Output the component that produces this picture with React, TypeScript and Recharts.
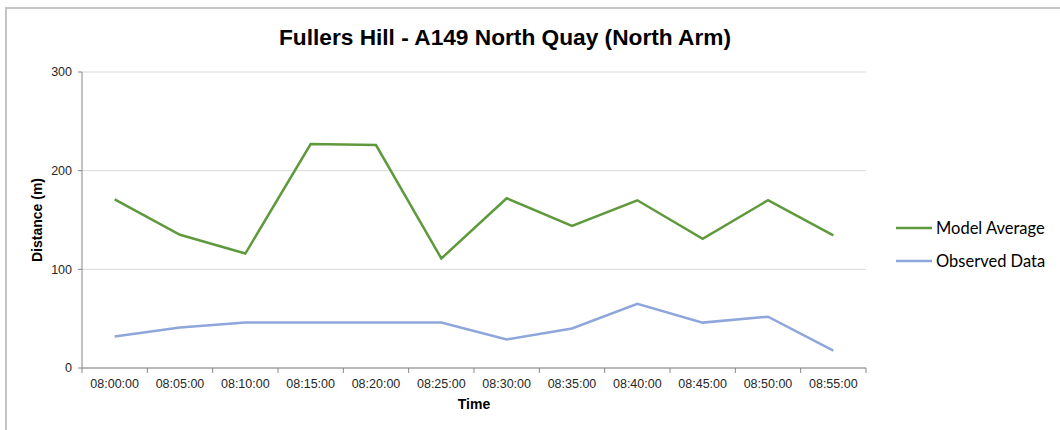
import React from 'react';
import { LineChart, Line, XAxis, YAxis, CartesianGrid, Legend, Label } from 'recharts';

const times = ['08:00:00', '08:05:00', '08:10:00', '08:15:00', '08:20:00', '08:25:00', '08:30:00', '08:35:00', '08:40:00', '08:45:00', '08:50:00', '08:55:00'];
const modelAverage = [171, 135, 116, 227, 226, 111, 172, 144, 170, 131, 170, 134.5];
const observedData = [32, 41, 46, 46, 46, 46, 29, 40, 65, 46, 52, 17.5];
const yTicks = [0, 100, 200, 300];

const data = times.map((t, i) => ({ i, time: t, model: modelAverage[i], observed: observedData[i] }));
const xTicks: number[] = [];
for (let k = 0; k <= times.length * 2; k++) xTicks.push(k / 2 - 0.5);

const GREEN = '#5E9A3C';
const BLUE = '#8EA6DA';
const AXIS = '#868686';
const FONT = '"Liberation Sans", Arial, sans-serif';

const XTick = (props: any) => {
  const { x, y, payload } = props;
  const v = payload.value;
  if (Number.isInteger(v)) {
    return (
      <text x={x} y={y} dy={14.5} textAnchor="middle" fill="#262626" fontSize={12.5} fontFamily={FONT}>
        {times[v]}
      </text>
    );
  }
  return <line x1={x} x2={x} y1={y - 5} y2={y} stroke={AXIS} strokeWidth={1} />;
};

const LegendContent = () => {
  const items = [
    { name: 'Model Average', color: GREEN },
    { name: 'Observed Data', color: BLUE },
  ];
  return (
    <div style={{ paddingLeft: 30 }}>
      {items.map((it) => (
        <div key={it.name} style={{ display: 'flex', alignItems: 'center', height: 33 }}>
          <svg width={36} height={4} style={{ marginRight: 4, flexShrink: 0 }}>
            <line x1={0} x2={36} y1={2} y2={2} stroke={it.color} strokeWidth={2.5} />
          </svg>
          <span style={{ fontFamily: 'Lato, sans-serif', fontSize: 16.5, color: '#000', whiteSpace: 'nowrap', flexShrink: 0 }}>{it.name}</span>
        </div>
      ))}
    </div>
  );
};

export default function App() {
  return (
    <div style={{ position: 'absolute', left: 0, top: 0, width: 1060, height: 430, overflow: 'hidden', background: '#fff' }}>
      <div style={{ position: 'absolute', left: 5, top: 7, width: 1200, height: 600, border: '2px solid #c4c4c4' }} />
      <div
        style={{
          position: 'absolute',
          left: 0,
          width: 1010,
          top: 23,
          textAlign: 'center',
          fontFamily: FONT,
          fontWeight: 'bold',
          fontSize: 22.7,
          lineHeight: '28px',
          color: '#000',
          whiteSpace: 'nowrap',
        }}
      >
        Fullers Hill - A149 North Quay (North Arm)
      </div>
      <div style={{ position: 'absolute', left: 0, top: 0 }}>
        <LineChart width={1060} height={430} data={data} margin={{ top: 72, right: 14, bottom: 0, left: 0 }}>
          <CartesianGrid vertical={false} stroke="#d9d9d9" strokeWidth={1} />
          <XAxis
            dataKey="i"
            type="number"
            domain={[-0.5, times.length - 0.5]}
            ticks={xTicks}
            interval={0}
            tick={<XTick />}
            tickLine={false}
            tickSize={5}
            tickMargin={0}
            axisLine={{ stroke: AXIS }}
            height={62}
          >
            <Label
              value="Time"
              position="insideBottom"
              offset={21}
              style={{ fontFamily: FONT, fontWeight: 'bold', fontSize: 14, fill: '#000' }}
            />
          </XAxis>
          <YAxis
            domain={[0, 300]}
            ticks={yTicks}
            interval={0}
            width={82}
            tickSize={4}
            tickMargin={6}
            tickLine={{ stroke: AXIS }}
            axisLine={{ stroke: AXIS }}
            tick={{ fontFamily: FONT, fontSize: 12.5, fill: '#262626' }}
          >
            <Label
              value="Distance (m)"
              angle={-90}
              position="insideLeft"
              offset={37}
              style={{ fontFamily: FONT, fontWeight: 'bold', fontSize: 14, fill: '#000', textAnchor: 'middle' }}
            />
          </YAxis>
          <Legend
            layout="vertical"
            align="right"
            verticalAlign="top"
            wrapperStyle={{ top: 211, width: 180 }}
            content={<LegendContent />}
          />
          <Line type="linear" dataKey="model" name="Model Average" stroke={GREEN} strokeWidth={2.5} dot={false} isAnimationActive={false} />
          <Line type="linear" dataKey="observed" name="Observed Data" stroke={BLUE} strokeWidth={2.5} dot={false} isAnimationActive={false} />
        </LineChart>
      </div>
    </div>
  );
}
